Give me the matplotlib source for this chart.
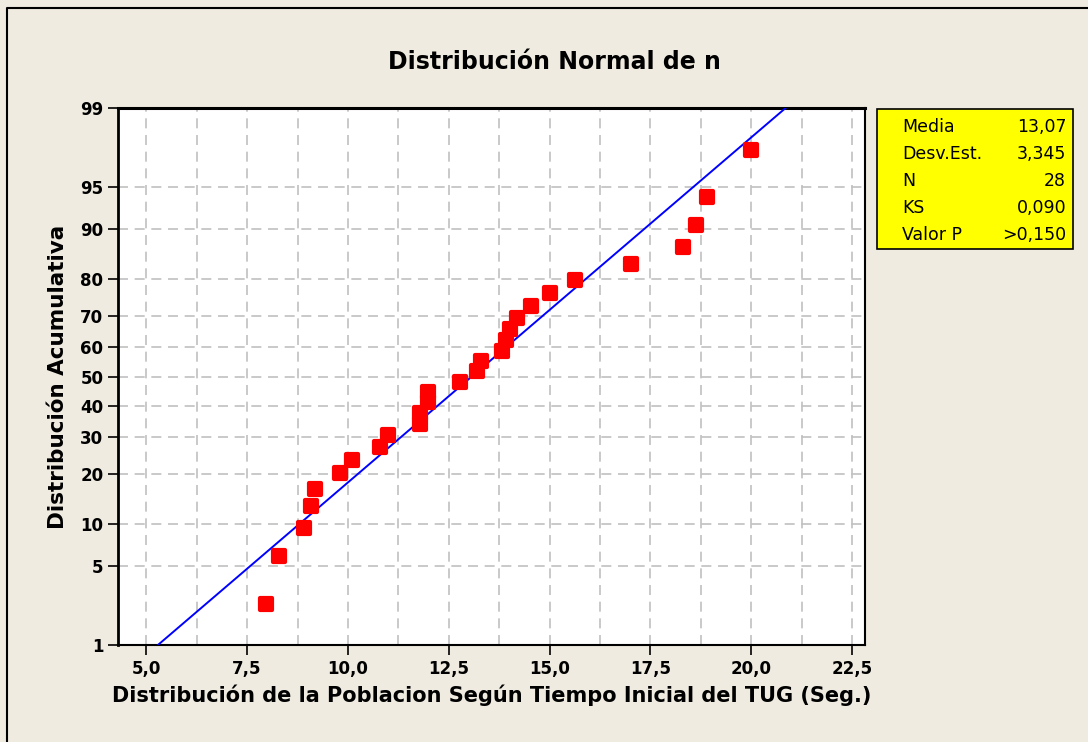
import math
import numpy as np
import matplotlib
matplotlib.use("Agg")
import matplotlib.pyplot as plt
from matplotlib.lines import Line2D
from matplotlib.markers import MarkerStyle
from matplotlib.patches import Rectangle
from matplotlib.ticker import MultipleLocator, FixedLocator

# Values
tiempo = [7.97, 8.30, 8.90, 9.09, 9.19, 9.80, 10.09, 10.79, 10.99, 11.78,
          11.78, 11.98, 11.98, 12.77, 13.20, 13.29, 13.83, 13.91, 14.01, 14.20,
          14.53, 15.00, 15.62, 17.03, 18.31, 18.64, 18.91, 20.00]
porcentaje = [2.46, 5.99, 9.51, 13.03, 16.55, 20.07, 23.59, 27.11, 30.63, 34.15,
              37.68, 41.20, 44.72, 48.24, 51.76, 55.28, 58.80, 62.32, 65.85, 69.37,
              72.89, 76.41, 79.93, 83.45, 86.97, 90.49, 94.01, 97.54]
media = 13.07
desv = 3.345
y_ticks = [1, 5, 10, 20, 30, 40, 50, 60, 70, 80, 90, 95, 99]
x_ticks = [5.0, 7.5, 10.0, 12.5, 15.0, 17.5, 20.0, 22.5]
x_labels = ["5,0", "7,5", "10,0", "12,5", "15,0", "17,5", "20,0", "22,5"]
stats_names = ["Media", "Desv.Est.", "N", "KS", "Valor P"]
stats_vals = ["13,07", "3,345", "28", "0,090", ">0,150"]

_erf = np.vectorize(math.erf, otypes=[float])


def cdf(z):
    z = np.asarray(z, dtype=float)
    return 50.0 * (1.0 + _erf(z / math.sqrt(2.0)))


def ppf(p):
    p = np.clip(np.asarray(p, dtype=float), 1e-9, 100 - 1e-9)
    lo = np.full(p.shape, -8.0)
    hi = np.full(p.shape, 8.0)
    for _ in range(60):
        mid = 0.5 * (lo + hi)
        below = cdf(mid) < p
        lo = np.where(below, mid, lo)
        hi = np.where(below, hi, mid)
    return 0.5 * (lo + hi)


bg = "#efebe0"
fig = plt.figure(figsize=(10.88, 7.42), dpi=100, facecolor=bg)
# outer frame: only top and left edges show in the reference
fig.lines.append(Line2D([0.0065, 0.0065, 1.0], [0.0, 0.989, 0.989],
                        transform=fig.transFigure, color="black", lw=1.5))

ax = fig.add_axes([0.1085, 0.1307, 0.6865, 0.7237])
ax.set_yscale("function", functions=(ppf, cdf))
ax.set_ylim(1, 99)
ax.set_xlim(4.3, 22.82)

# fitted normal line
p_line = np.array([1.0, 99.0])
x_line = media + desv * ppf(p_line)
ax.plot(x_line, p_line, color="#0000ff", lw=1.4, zorder=3)

ax.plot(tiempo, porcentaje, linestyle="none",
        marker=MarkerStyle("s", joinstyle="round"), color="#ff0000",
        ms=8, mec="#ff0000", mew=3, mfc="#ff0000", zorder=4)

ax.xaxis.set_major_locator(FixedLocator(x_ticks))
ax.xaxis.set_minor_locator(MultipleLocator(1.25))
ax.set_xticklabels(x_labels)
ax.yaxis.set_major_locator(FixedLocator(y_ticks))
ax.yaxis.set_minor_locator(FixedLocator([]))
ax.set_yticklabels([str(v) for v in y_ticks])

ax.grid(True, which="both", axis="x", color="#c0c0c0", linestyle=(0, (6, 4)), lw=1.2)
ax.grid(True, which="major", axis="y", color="#c0c0c0", linestyle=(0, (6, 4)), lw=1.2)
ax.set_axisbelow(True)

ax.tick_params(axis="both", which="major", length=7, width=1.2, direction="out",
               labelsize=12)
ax.tick_params(axis="x", which="minor", length=0)
for lab in ax.get_xticklabels() + ax.get_yticklabels():
    lab.set_fontweight("bold")
for s in ax.spines.values():
    s.set_linewidth(1.5)
    s.set_color("black")
ax.spines["top"].set_linewidth(2.2)
ax.spines["left"].set_linewidth(2.0)

ax.set_xlabel("Distribución de la Poblacion Según Tiempo Inicial del TUG (Seg.)",
              fontsize=15, fontweight="bold", labelpad=5)
ax.set_ylabel("Distribución Acumulativa", fontsize=15.5, fontweight="bold", labelpad=9)
fig.text(0.51, 0.916, "Distribución Normal de n", ha="center", va="center",
         fontsize=17, fontweight="bold")

# stats box
fig.patches.append(Rectangle((0.806, 0.6644), 0.180, 0.1887, transform=fig.transFigure,
                             facecolor="#ffff00", edgecolor="black", lw=1.2))
rows_y = [127, 154, 181, 208, 235]
for name, val, yp in zip(stats_names, stats_vals, rows_y):
    fy = 1 - yp / 742.0
    fig.text(0.829, fy, name, ha="left", va="center", fontsize=12.5)
    fig.text(0.980, fy, val, ha="right", va="center", fontsize=12.5)

fig.savefig("out.png", dpi=100, facecolor=bg)
